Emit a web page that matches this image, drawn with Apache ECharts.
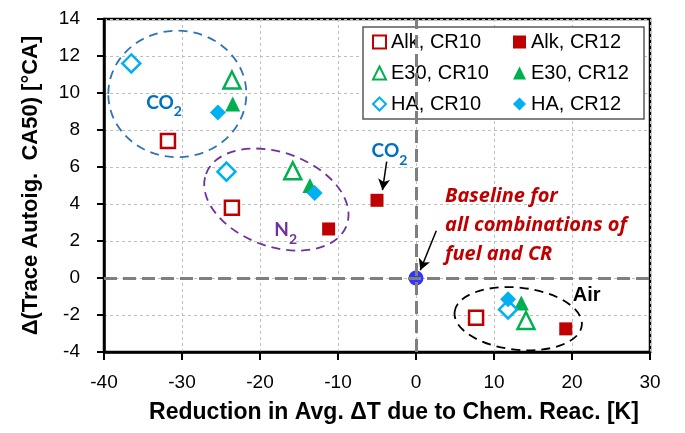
<!DOCTYPE html>
<html>
<head>
<meta charset="utf-8">
<script src="https://cdn.jsdelivr.net/npm/echarts@6/dist/echarts.min.js"></script>
<style>
  html, body { margin: 0; padding: 0; background: #ffffff; }
  #chart { width: 685px; height: 433px; }
</style>
</head>
<body>
<div id="chart"></div>
<script>
// Points: [reduction in avg. ΔT due to chemical reactions (K), Δ trace autoignition CA50 (°CA)]
// Each series lists its CO2, N2 and Air dilution cases in that order.
const alkCR10 = [[-31.8, 7.4], [-23.6, 3.8], [7.7, -2.15]];
const alkCR12 = [[-5.0, 4.2], [-11.2, 2.65], [19.2, -2.75]];
const e30CR10 = [[-23.6, 10.7], [-15.8, 5.8], [14.1, -2.3]];
const e30CR12 = [[-23.5, 9.4], [-13.6, 5.0], [13.5, -1.35]];
const haCR10 = [[-36.5, 11.6], [-24.3, 5.75], [11.8, -1.7]];
const haCR12 = [[-25.4, 8.95], [-13.0, 4.6], [11.8, -1.15]];
const baselinePoint = [[0, 0]];

const seriesNames = ['Alk, CR10', 'Alk, CR12', 'E30, CR10', 'E30, CR12', 'HA, CR10', 'HA, CR12'];
const legendOrder = ['Alk, CR10', 'E30, CR10', 'HA, CR10', 'Alk, CR12', 'E30, CR12', 'HA, CR12'];

const xMin = -40, xMax = 30, xStep = 10;
const yMin = -4, yMax = 14, yStep = 2;

// Dashed groupings: [centre x, centre y, semi-axis x, semi-axis y, tilt in degrees]
const groupRings = [[-30.6, 9.95, 8.85, 3.42, 0], [-17.9, 4.24, 9.6, 2.54, -20], [13.1, -2.2, 8.2, 1.68, -6]];
const ringColors = ['#2e75b6', '#7030a0', '#000000'];

const RED = '#c00000', GREEN = '#00b050', CYAN = '#00b0f0';
const SANS = '"Liberation Sans", Arial, sans-serif';
const NOTE_FONT = 'Lato, "Open Sans", sans-serif';

const subRich = function (color) {
  return {
    m: { fontFamily: NOTE_FONT, fontWeight: 'bold', fontSize: 19, lineHeight: 19, verticalAlign: 'top', fill: color, color: color },
    s: { fontFamily: NOTE_FONT, fontWeight: 'bold', fontSize: 14, lineHeight: 26, verticalAlign: 'bottom', fill: color, color: color }
  };
};

// Text notes placed in data coordinates
const notes = [
  { at: [-32.3, 9.3], text: '{m|CO}{s|2}', rich: subRich('#0070c0'), color: '#0070c0', align: 'center' },
  { at: [-3.4, 6.7], text: '{m|CO}{s|2}', rich: subRich('#0070c0'), color: '#0070c0', align: 'center' },
  { at: [-16.7, 2.4], text: '{m|N}{s|2}', rich: subRich('#7030a0'), color: '#7030a0', align: 'center' },
  { at: [20.1, -0.92], text: 'Air', font: 'bold 20px ' + SANS, color: '#000', align: 'left' },
  { at: [3.72, 5.2], text: 'Baseline for\nall combinations of\nfuel and CR', font: 'italic bold 20px "Open Sans", Lato, sans-serif', color: RED, align: 'left', vTop: true, lineHeight: 29 }
];

// Arrows: [from, to]
const arrows = [[[-3.76, 6.29], [-4.3, 4.75]], [[2.6, 2.55], [0.55, 0.42]]];

function scatter(name, data, symbol, size, color, hollow) {
  return {
    name: name,
    type: 'scatter',
    data: data,
    symbol: symbol,
    symbolSize: size,
    z: 3,
    itemStyle: hollow
      ? { color: '#ffffff', borderColor: color, borderWidth: 2.5, opacity: 1 }
      : { color: color, opacity: 1 },
    emphasis: { disabled: true }
  };
}

const chart = echarts.init(document.getElementById('chart'), null, { renderer: 'canvas' });

chart.setOption({
  animation: false,
  backgroundColor: '#ffffff',
  textStyle: { fontFamily: SANS },
  grid: { left: 104, right: 35, top: 19, bottom: 81, show: true, borderColor: '#000', borderWidth: 2.5 },
  legend: {
    data: legendOrder,
    orient: 'vertical',
    left: 363,
    top: 27,
    height: 86,
    padding: [5, 3, 5, 9],
    itemGap: 11,
    itemWidth: 13,
    itemHeight: 13,
    borderColor: '#595959',
    borderWidth: 1.5,
    backgroundColor: '#ffffff',
    textStyle: {
      fontSize: 20, color: '#000', fontFamily: SANS,
      width: 110, backgroundColor: 'rgba(255,255,255,0)'
    }
  },
  xAxis: {
    type: 'value', min: xMin, max: xMax, interval: xStep,
    axisLine: { show: true, onZero: false, lineStyle: { color: '#000', width: 2.5 } },
    axisTick: { show: true, length: 8, lineStyle: { color: '#000', width: 2 } },
    axisLabel: { fontSize: 19, color: '#000', margin: 21, fontFamily: SANS },
    splitLine: { show: true, lineStyle: { color: '#bfbfbf', width: 1, type: [3, 3] } },
    name: 'Reduction in Avg. ΔT due to Chem. Reac. [K]',
    nameLocation: 'middle',
    nameGap: 49,
    nameTextStyle: { fontSize: 23, fontWeight: 'bold', color: '#000', fontFamily: SANS, padding: [0, 0, 0, 34] }
  },
  yAxis: {
    type: 'value', min: yMin, max: yMax, interval: yStep,
    axisLine: { show: true, onZero: false, lineStyle: { color: '#000', width: 2.5 } },
    axisTick: { show: true, length: 7, lineStyle: { color: '#000', width: 2 } },
    axisLabel: { fontSize: 19, color: '#000', margin: 24, fontFamily: SANS },
    splitLine: { show: true, lineStyle: { color: '#bfbfbf', width: 1, type: [3, 3] } },
    name: 'Δ(Trace Autoig.  CA50) [°CA]',
    nameLocation: 'middle',
    nameGap: 62,
    nameTextStyle: { fontSize: 22, fontWeight: 'bold', color: '#000', fontFamily: SANS }
  },
  series: [
    {
      // Dilution group outlines and the zero reference lines
      type: 'custom',
      name: 'groups',
      z: 1,
      silent: true,
      encode: { x: 0, y: 1 },
      data: groupRings,
      renderItem: function (params, api) {
        const c = api.coord([api.value(0), api.value(1)]);
        const s = api.size([api.value(2), api.value(3)]);
        return {
          type: 'ellipse',
          x: c[0], y: c[1],
          rotation: api.value(4) * Math.PI / 180,
          shape: { cx: 0, cy: 0, rx: s[0], ry: s[1] },
          style: { fill: 'none', stroke: ringColors[params.dataIndex], lineWidth: 1.8, lineDash: [9, 6] }
        };
      },
      markLine: {
        silent: true,
        symbol: 'none',
        label: { show: false },
        lineStyle: { color: '#7f7f7f', width: 3, type: [13, 6] },
        data: [{ xAxis: 0 }, { yAxis: 0 }]
      }
    },
    scatter(seriesNames[0], alkCR10, 'rect', 14, RED, true),
    scatter(seriesNames[1], alkCR12, 'rect', 13, RED, false),
    scatter(seriesNames[2], e30CR10, 'triangle', 17, GREEN, true),
    scatter(seriesNames[3], e30CR12, 'triangle', 15, GREEN, false),
    scatter(seriesNames[4], haCR10, 'diamond', 18, CYAN, true),
    scatter(seriesNames[5], haCR12, 'diamond', 16, CYAN, false),
    {
      name: 'baseline',
      type: 'scatter',
      data: baselinePoint,
      symbol: 'circle',
      symbolSize: 15,
      z: 4,
      itemStyle: { color: '#0000ff' }
    },
    {
      // Annotation texts and arrows
      type: 'custom',
      name: 'notes',
      z: 5,
      silent: true,
      encode: { x: 0, y: 1 },
      data: notes.map(function (n) { return n.at; }),
      renderItem: function (params, api) {
        const n = notes[params.dataIndex];
        const c = api.coord([api.value(0), api.value(1)]);
        const style = {
          text: n.text,
          fill: n.color,
          align: n.align,
          verticalAlign: n.vTop ? 'top' : 'middle'
        };
        if (n.rich) style.rich = n.rich;
        if (n.font) style.font = n.font;
        if (n.lineHeight) style.lineHeight = n.lineHeight;
        return { type: 'text', x: c[0], y: c[1], style: style };
      },
      markLine: {
        silent: true,
        symbol: ['none', 'arrow'],
        symbolSize: [9, 11],
        label: { show: false },
        lineStyle: { color: '#000', width: 1.5, type: 'solid' },
        data: arrows.map(function (a) { return [{ coord: a[0] }, { coord: a[1] }]; })
      }
    }
  ]
});
</script>
</body>
</html>
